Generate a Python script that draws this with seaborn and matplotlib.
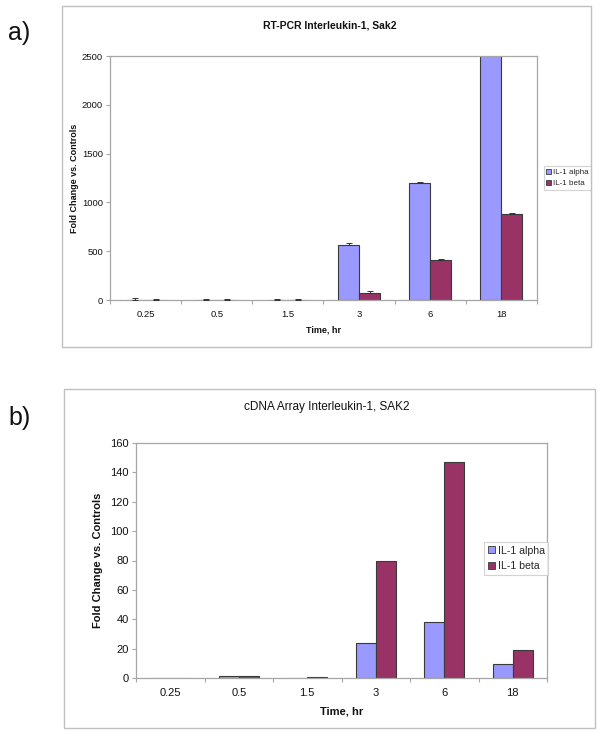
import matplotlib
matplotlib.use("Agg")
import matplotlib.pyplot as plt
import seaborn as sns
import pandas as pd
import numpy as np
from matplotlib.patches import Rectangle
from matplotlib.ticker import FixedLocator

sns.set_theme(style="white")
plt.rcParams['font.family'] = ['Liberation Sans', 'DejaVu Sans']

# ---------------- data ----------------
times = ["0.25", "0.5", "1.5", "3", "6", "18"]
series = ["IL-1 alpha", "IL-1 beta"]

# RT-PCR panel (a)
rt_alpha = [5, 2, 2, 565, 1195, 2600]
rt_beta = [2, 2, 2, 70, 405, 880]
rt_alpha_err = [20, 12, 12, 20, 10, 0]
rt_beta_err = [12, 12, 12, 20, 20, 15]

# cDNA array panel (b)
cd_alpha = [0, 1.2, 0, 23.5, 38, 9.5]
cd_beta = [0, 1.2, 0.6, 80, 147, 19]

rt_yticks = [0, 500, 1000, 1500, 2000, 2500]
cd_yticks = [0, 20, 40, 60, 80, 100, 120, 140, 160]

colors = {"IL-1 alpha": "#9999FF", "IL-1 beta": "#993366"}
edge = "#3a3a3a"
frame = "#a6a6a6"

W, H = 602, 735
fig = plt.figure(figsize=(W / 100, H / 100), dpi=100)


def fx(x):
    return x / W


def fy(y):
    return 1 - y / H


def add_box(x0, y0, x1, y1):
    fig.patches.append(Rectangle((fx(x0), fy(y1)), fx(x1) - fx(x0), fy(y0) - fy(y1),
                                 transform=fig.transFigure, fill=False,
                                 edgecolor="#c0c0c0", linewidth=1.0))


def make_df(a, b):
    return pd.DataFrame({
        "time": times * 2,
        "series": [series[0]] * len(times) + [series[1]] * len(times),
        "value": list(a) + list(b),
    })


def style_axes(ax, yticks, fs):
    ax.set_ylim(yticks[0], yticks[-1])
    ax.set_yticks(yticks)
    ax.set_xlim(-0.5, len(times) - 0.5)
    for s in ax.spines.values():
        s.set_color(frame)
        s.set_linewidth(0.9)
    ax.tick_params(axis="y", which="major", direction="out", length=3, width=0.8,
                   color=frame, labelsize=fs, pad=2, left=True)
    ax.tick_params(axis="x", which="major", length=0, labelsize=fs, pad=7)
    ax.xaxis.set_minor_locator(FixedLocator(np.arange(-0.5, len(times), 1.0)))
    ax.tick_params(axis="x", which="minor", direction="out", length=3, width=0.8,
                   color=frame, bottom=True)
    for lab in ax.get_xticklabels() + ax.get_yticklabels():
        lab.set_color("#111111")
    ax.grid(False)


def style_legend(leg):
    leg.get_frame().set_edgecolor("#c8c8c8")
    leg.get_frame().set_linewidth(0.8)
    for h in leg.legend_handles:
        h.set_edgecolor(edge)
        h.set_linewidth(0.6)


# ---------------- panel a ----------------
add_box(62, 6, 591, 347)
ax1 = fig.add_axes([fx(110), fy(300), fx(537) - fx(110), fy(56) - fy(300)])
df1 = make_df(rt_alpha, rt_beta)
sns.barplot(data=df1, x="time", y="value", hue="series", order=times,
            hue_order=series, palette=colors, width=0.59, errorbar=None,
            saturation=1, edgecolor=edge, linewidth=0.8, ax=ax1, legend=True)
bars = [p for p in ax1.patches if isinstance(p, Rectangle) and p.get_width() > 0][:2 * len(times)]
xs = [p.get_x() + p.get_width() / 2 for p in bars]
vals = rt_alpha + rt_beta
errs = rt_alpha_err + rt_beta_err
for x, v, e in zip(xs, vals, errs):
    if e > 0 and v < rt_yticks[-1]:
        ax1.errorbar([x], [v], yerr=[[0], [e]], fmt="none", ecolor="#333333",
                     elinewidth=0.7, capsize=2, capthick=0.7, zorder=5)
style_axes(ax1, rt_yticks, 6.8)
ax1.set_xlabel("Time, hr", fontsize=6.5, fontweight="bold", labelpad=5, color="#111111")
ax1.set_ylabel("Fold Change vs. Controls", fontsize=6.5, fontweight="bold",
               labelpad=2, color="#111111")
leg1 = ax1.legend(loc="center left",
                  bbox_to_anchor=((544 - 110) / (537 - 110), 1 - (178 - 56) / (300 - 56)),
                  fontsize=5.8, frameon=True, fancybox=False, handlelength=0.6,
                  handleheight=0.6, handletextpad=0.2, borderpad=0.3,
                  labelspacing=0.5, borderaxespad=0)
style_legend(leg1)
fig.text(fx(330), fy(26), "RT-PCR Interleukin-1, Sak2", ha="center", va="center",
         fontsize=7.5, fontweight="bold", color="#111111")
fig.text(fx(8), fy(33), "a)", ha="left", va="center", fontsize=18, color="#111111")

# ---------------- panel b ----------------
add_box(64, 389, 595, 728)
ax2 = fig.add_axes([fx(136), fy(678), fx(547) - fx(136), fy(443) - fy(678)])
df2 = make_df(cd_alpha, cd_beta)
sns.barplot(data=df2, x="time", y="value", hue="series", order=times,
            hue_order=series, palette=colors, width=0.58, errorbar=None,
            saturation=1, edgecolor=edge, linewidth=0.8, ax=ax2, legend=True)
style_axes(ax2, cd_yticks, 8)
ax2.set_xlabel("Time, hr", fontsize=8, fontweight="bold", labelpad=6, color="#111111")
ax2.set_ylabel("Fold Change vs. Controls", fontsize=8, fontweight="bold",
               labelpad=5, color="#111111")
leg2 = ax2.legend(loc="center left",
                  bbox_to_anchor=((484 - 136) / (547 - 136), 1 - (558.5 - 443) / (678 - 443)),
                  fontsize=7.6, frameon=True, fancybox=False, handlelength=0.65,
                  handleheight=0.65, handletextpad=0.3, borderpad=0.35,
                  labelspacing=0.55, borderaxespad=0)
style_legend(leg2)
fig.text(fx(327), fy(407), "cDNA Array Interleukin-1, SAK2", ha="center", va="center",
         fontsize=8.5, color="#111111")
fig.text(fx(8), fy(418), "b)", ha="left", va="center", fontsize=18, color="#111111")

fig.savefig("out.png", dpi=100)
